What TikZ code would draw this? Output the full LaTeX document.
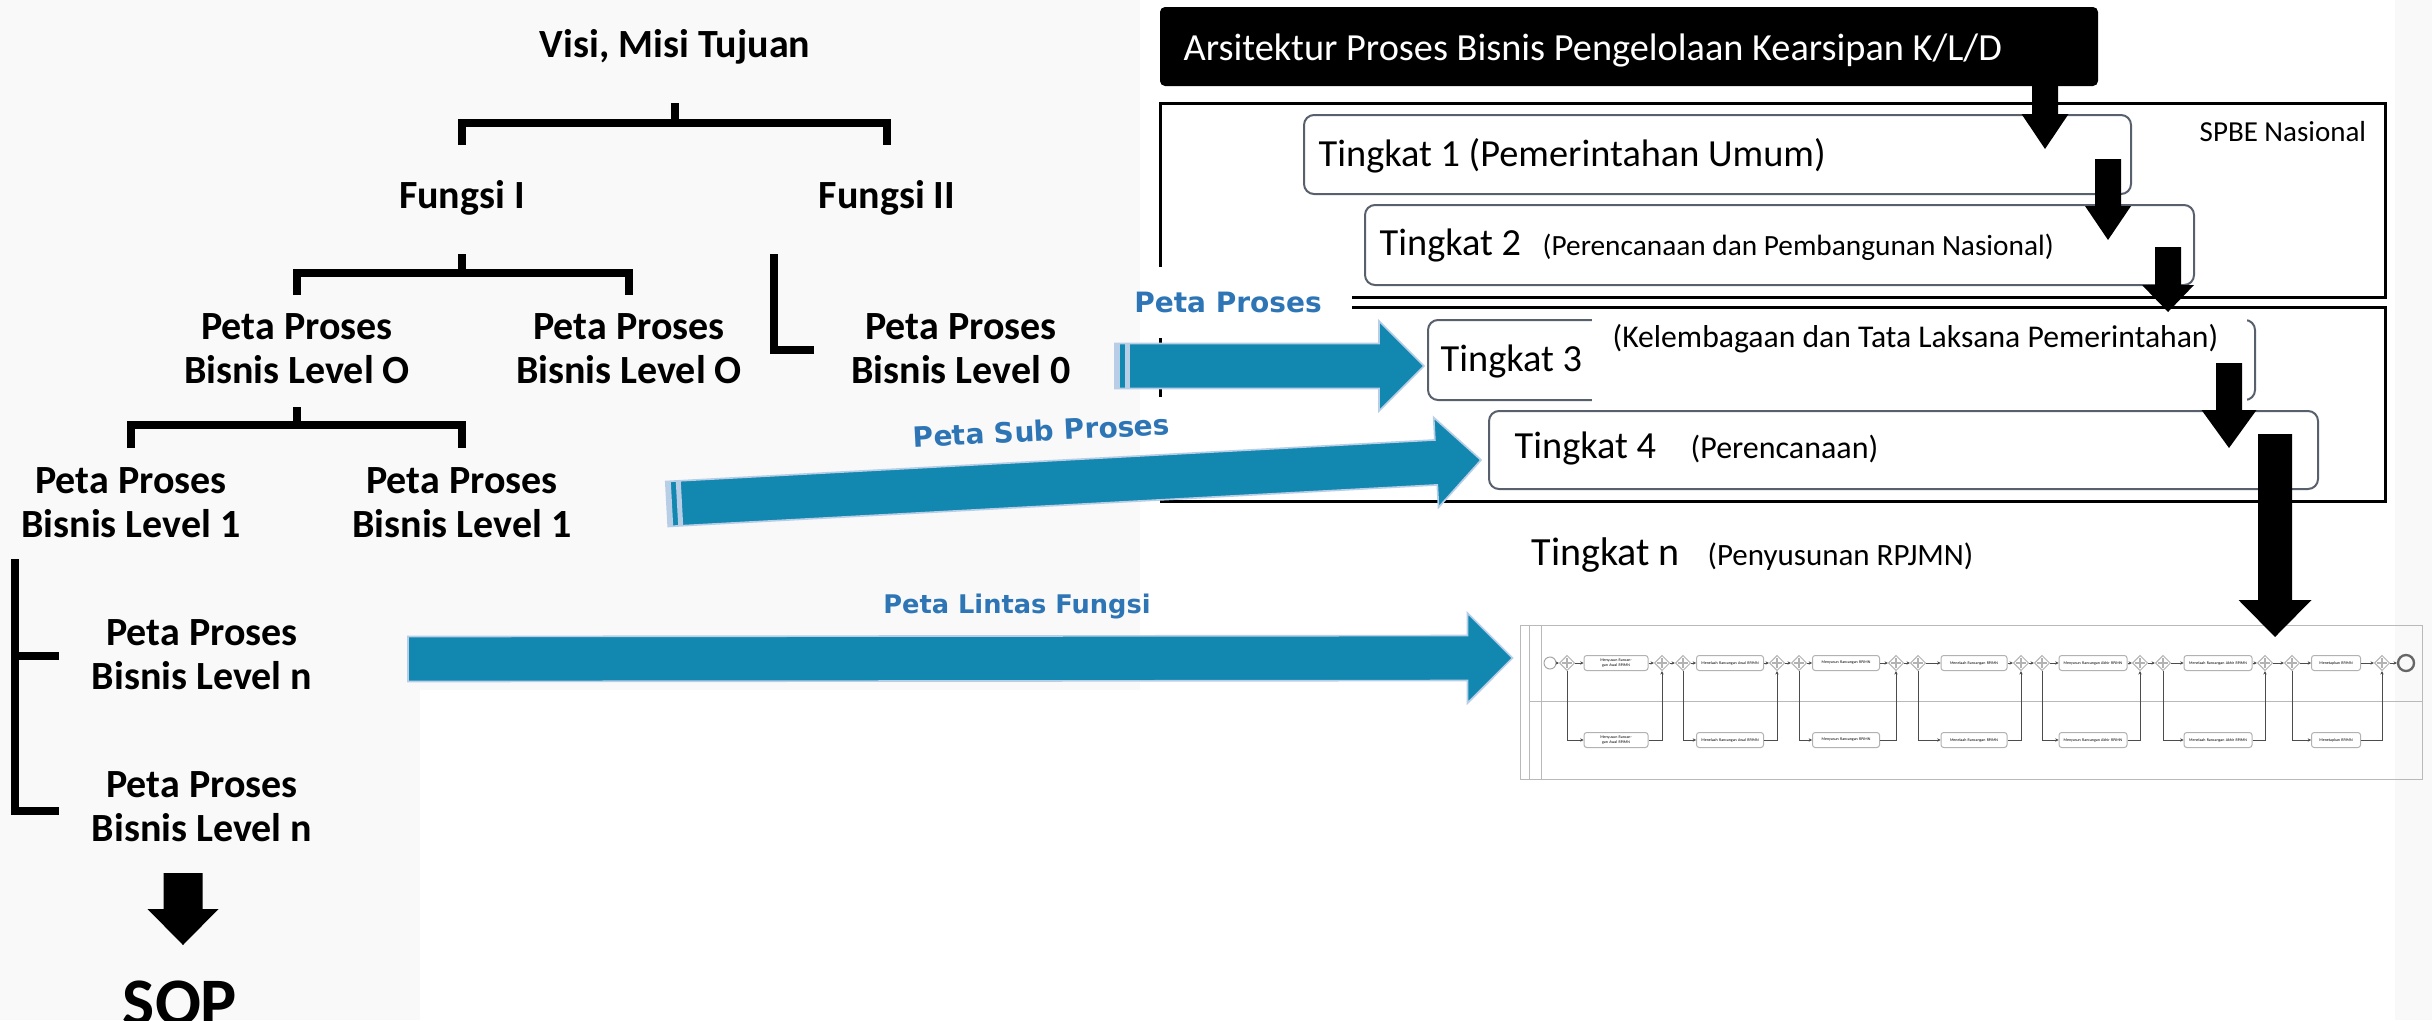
\documentclass[tikz,border=0pt]{standalone}
\usepackage{fontspec}
\setmainfont{Carlito}
\newfontfamily\labelfont{DejaVu Sans}
\usetikzlibrary{calc,shapes.geometric,arrows.meta}

\begin{document}
\begin{tikzpicture}[x=0.3pt,y=-0.3pt,line join=miter]
  % Local definitions
  \def\shaftw{6.75pt}
  \def\wingw{13.5pt}
  \def\hdlen{13.5pt}

  % Colors
  \definecolor{arrowblue}{RGB}{18,135,176}
  \definecolor{arrowedge}{RGB}{184,206,230}
  \definecolor{labelblue}{RGB}{46,117,182}
  \definecolor{boxedge}{RGB}{88,96,110}
  \colorlet{paper}{gray!5}

  % Styles
  \tikzstyle{tree text}=[anchor=base,align=center,inner sep=0pt,font=\bfseries\fontsize{12}{13.2}\selectfont]
  \tikzstyle{tree line}=[line width=2.4pt]
  \tikzstyle{spbe frame}=[line width=0.9pt]
  \tikzstyle{level box}=[draw=boxedge,line width=0.6pt,rounded corners=3pt,inner sep=0pt]
  \tikzstyle{level text}=[anchor=base west,inner sep=0pt,font=\fontsize{11.5}{13}\selectfont]
  \tikzstyle{level note}=[anchor=base west,inner sep=0pt]
  \tikzstyle{map label}=[anchor=base,inner sep=0pt,text=labelblue,font=\labelfont\bfseries\fontsize{8.4}{10}\selectfont]
  \tikzstyle{blue arrow}=[fill=arrowblue,draw=arrowedge,line width=0.5pt]
  \tikzstyle{black arrow}=[fill=black]
  \tikzstyle{pool line}=[draw=gray!55,line width=0.3pt]
  \tikzstyle{bpmn task}=[draw=gray!60,fill=white,line width=0.3pt,rounded corners=0.8pt,inner sep=0.3pt,
    align=center,font=\fontsize{1.2}{1.4}\selectfont]
  \tikzstyle{bpmn gate}=[diamond,draw=gray!60,fill=white,line width=0.3pt,inner sep=0pt,minimum size=4.6pt,
    path picture={\draw[line width=0.5pt]
      ([yshift=-1.4pt]path picture bounding box.center) -- ([yshift=1.4pt]path picture bounding box.center)
      ([xshift=-1.4pt]path picture bounding box.center) -- ([xshift=1.4pt]path picture bounding box.center);}]
  \tikzstyle{bpmn flow}=[draw=gray!60!black,line width=0.2pt,-{Stealth[length=1pt,width=1pt]}]

  % Background
  \useasboundingbox (0,0) rectangle (2432,1020);
  \fill[paper] (0,0) rectangle (2432,1020);
  \fill[white] (1140,0) rectangle (2395,1020);
  \fill[white] (420,690) rectangle (1140,1020);

  % The tree
  \node[tree text] (visi) at (675,58) {Visi, Misi Tujuan};
  \node[tree text] (fungsi1) at (462,208) {Fungsi I};
  \node[tree text] (fungsi2) at (887,208) {Fungsi II};
  \node[tree text] (peta0a) at (297,383) {Peta Proses\\Bisnis Level O};
  \node[tree text] (peta0b) at (629,383) {Peta Proses\\Bisnis Level O};
  \node[tree text] (peta0c) at (961,383) {Peta Proses\\Bisnis Level 0};
  \node[tree text] (peta1a) at (131,537) {Peta Proses\\Bisnis Level 1};
  \node[tree text] (peta1b) at (462,537) {Peta Proses\\Bisnis Level 1};
  \node[tree text] (petana) at (202,689) {Peta Proses\\Bisnis Level n};
  \node[tree text] (petanb) at (202,841) {Peta Proses\\Bisnis Level n};
  \node[tree text,font=\bfseries\fontsize{20.4}{24}\selectfont] (sop) at (180,1025) {SOP};

  \draw[tree line] (visi |- 0,103) -- (visi |- 0,123);
  \draw[tree line] (fungsi1 |- 0,145) -- (fungsi1 |- 0,123) -- (fungsi2 |- 0,123) -- (fungsi2 |- 0,145);
  \draw[tree line] (fungsi1 |- 0,254) -- (fungsi1 |- 0,273);
  \draw[tree line] (peta0a |- 0,295) -- (peta0a |- 0,273) -- (peta0b |- 0,273) -- (peta0b |- 0,295);
  \draw[tree line] (774,254) -- (774,350) -- (814,350);
  \draw[tree line] (peta0a |- 0,407) -- (peta0a |- 0,425);
  \draw[tree line] (peta1a |- 0,448) -- (peta1a |- 0,425) -- (peta1b |- 0,425) -- (peta1b |- 0,448);
  \draw[tree line] (15,559) -- (15,811) -- (59,811);
  \draw[tree line] (15,656) -- (59,656);

  % The levels
  \node[fill=black,rounded corners=1.5pt,minimum width=281.4pt,minimum height=23.7pt,inner sep=0pt] (title) at (1629,46.5) {};
  \node[level text,text=white] (title text) at (1183,60)
    {Arsitektur Proses Bisnis Pengelolaan Kearsipan K/L/D};

  \draw[spbe frame] (1160,103) rectangle (2385,297);
  \draw[spbe frame] (1160,397) -- (1160,307) -- (2385,307) -- (2385,501) -- (1160,501);
  \node[level note,font=\fontsize{8.7}{10}\selectfont] (spbe) at (2199,141) {SPBE Nasional};

  \node[level box,minimum width=248.1pt,minimum height=23.7pt] (t1) at (1717.5,154.5) {};
  \node[level box,minimum width=248.7pt,minimum height=24pt] (t2) at (1779.5,245) {};
  \node[level box,minimum width=248.1pt,minimum height=24pt] (t3) at (1841.5,360) {};
  \node[level box,minimum width=248.7pt,minimum height=23.4pt] (t4) at (1903.5,450) {};
  \fill[white] (1592,313) rectangle (2247,407);
  \fill[white] (1148,267) rectangle (1352,338);

  \node[level text] (t1 text) at (1318,166) {Tingkat 1 (Pemerintahan Umum)};
  \node[level text] (t2 text) at (1379,255) {Tingkat 2};
  \node[level note,font=\fontsize{8.8}{10}\selectfont] (t2 note) at (1542,255) {(Perencanaan dan Pembangunan Nasional)};
  \node[level text] (t3 text) at (1440,371) {Tingkat 3};
  \node[level note,font=\fontsize{9.5}{11}\selectfont] (t3 note) at (1612,347) {(Kelembagaan dan Tata Laksana Pemerintahan)};
  \node[level text] (t4 text) at (1514,458) {Tingkat 4};
  \node[level note,font=\fontsize{9.6}{11}\selectfont] (t4 note) at (1690,458) {(Perencanaan)};
  \node[level text,font=\fontsize{12}{14}\selectfont] (tn text) at (1531,565) {Tingkat n};
  \node[level note,font=\fontsize{9.3}{11}\selectfont] (tn note) at (1707,565) {(Penyusunan RPJMN)};

  % The cross-function map
  \node[pool line,minimum width=270.6pt,minimum height=46.2pt,inner sep=0pt] (pool) at (1971,702) {};
  \draw[pool line] (1529,625) -- (1529,779) (1541,625) -- (1541,779) (1529,701) -- (2422,701);
  \node[circle,draw=gray!70,line width=0.3pt,minimum size=3.6pt,inner sep=0pt] (start) at (1550,663) {};
  \node[circle,draw=gray!80!black,line width=0.7pt,minimum size=4.8pt,inner sep=0pt] (stop) at (2406,663) {};

  \foreach \gs/\tc/\gj/\tw/\name [count=\i] in {
      1567/1616/1662/64/Menyusun Rancangan Awal RPJMN,
      1683/1730/1777/67/Menelaah Rancangan Awal RPJMN,
      1799/1846/1896/67/Menyusun Rancangan RPJMN,
      1918/1974/2021/66/Menelaah Rancangan RPJMN,
      2042/2093/2140/68/Menyusun Rancangan Akhir RPJMN,
      2163/2218/2265/68/Menelaah Rancangan Akhir RPJMN,
      2292/2336/2382/49/Menetapkan RPJMN}
  {
    \pgfmathsetmacro\boxw{\tw*0.3}
    \pgfmathsetmacro\textw{(\tw-6)*0.3}
    \node[bpmn gate] (split\i) at (\gs,663) {};
    \node[bpmn gate] (join\i) at (\gj,663) {};
    \node[bpmn task,minimum width=\boxw pt,minimum height=4.5pt,text width=\textw pt] (upper\i) at (\tc,663) {\name};
    \node[bpmn task,minimum width=\boxw pt,minimum height=4.5pt,text width=\textw pt] (lower\i) at (\tc,740) {\name};
    \draw[bpmn flow] (split\i) -- (upper\i);
    \draw[bpmn flow] (upper\i) -- (join\i);
    \draw[bpmn flow] (split\i) |- (lower\i);
    \draw[bpmn flow] (lower\i) -| (join\i);
  }
  \foreach \i [evaluate=\i as \j using int(\i+1)] in {1,...,6}
    \draw[bpmn flow] (join\i) -- (split\j);
  \draw[bpmn flow] (start) -- (split1);
  \draw[bpmn flow] (join7) -- (stop);

  % Blue arrows
  \coordinate (pp tail) at (1115,366);
  \coordinate (pp tip) at ([shift={(-3,6)}]t3.west);
  \coordinate (sp tail) at (667,504);
  \coordinate (sp tip) at ([shift={(-7,10)}]t4.west);
  \coordinate (lf tail) at (408,659);
  \coordinate (lf tip) at ([shift={(-7,-44)}]pool.west);

  \foreach \tail/\tip in {pp tail/pp tip, sp tail/sp tip, lf tail/lf tip}
  {
    \coordinate (head base) at ($(\tip)!\hdlen!(\tail)$);
    \filldraw[blue arrow] ($(\tail)!\shaftw!90:(\tip)$) -- ($(head base)!\shaftw!90:(\tip)$)
      -- ($(head base)!\wingw!90:(\tip)$) -- (\tip) -- ($(head base)!\wingw!-90:(\tip)$)
      -- ($(head base)!\shaftw!-90:(\tip)$) -- ($(\tail)!\shaftw!-90:(\tip)$) -- cycle;
  }
  \foreach \tail/\tip in {pp tail/pp tip, sp tail/sp tip}
    \foreach \d in {0.75pt,3.75pt}
    {
      \coordinate (stripe) at ($(\tail)!\d!(\tip)$);
      \draw[arrowedge,line width=1.5pt] ($(stripe)!\shaftw!90:(\tip)$) -- ($(stripe)!\shaftw!-90:(\tip)$);
    }

  \node[map label] (pp label) at (1228,312) {Peta Proses};
  \node[map label,rotate=3] (sp label) at (1042,441) {Peta Sub Proses};
  \node[map label,font=\labelfont\bfseries\fontsize{7.7}{9}\selectfont] (lf label) at (1017,613) {Peta Lintas Fungsi};

  % Black arrows
  \foreach \x/\ya/\yb/\yc/\s/\h in {2045/86/114/149/26/47, 2108/159/206/240/26/46,
      2168/247/285/312/26/52, 2229/363/410/448/26/55, 2275/434/600/637/34/73, 183/873/909/945/39/71}
    \fill[black arrow] (\x-\s/2,\ya) -- (\x+\s/2,\ya) -- (\x+\s/2,\yb) -- (\x+\h/2,\yb)
      -- (\x,\yc) -- (\x-\h/2,\yb) -- (\x-\s/2,\yb) -- cycle;
\end{tikzpicture}
\end{document}
